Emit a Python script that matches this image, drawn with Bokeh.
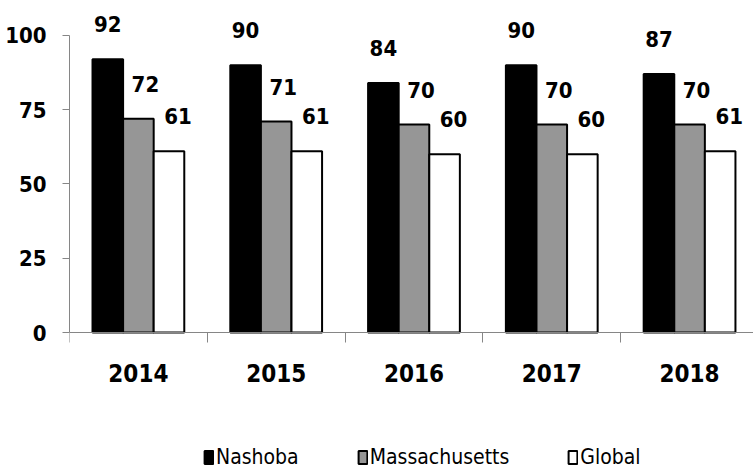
from bokeh.plotting import figure
from bokeh.models import ColumnDataSource, Range1d, FixedTicker, LabelSet, Legend, LegendItem
from bokeh.core.properties import value
from bokeh.transform import dodge
from bokeh.embed import file_html
from bokeh.resources import INLINE

years = ["2014", "2015", "2016", "2017", "2018"]
nashoba = [92, 90, 84, 90, 87]
massachusetts = [72, 71, 70, 70, 70]
global_vals = [61, 61, 60, 60, 61]
series_names = ["Nashoba", "Massachusetts", "Global"]
y_ticks = [0, 25, 50, 75, 100]

FONT = "DejaVu Sans Condensed"
colors = ["#000000", "#969696", "#ffffff"]
offsets = [-0.222, 0.0, 0.222]
label_dx = [0, 7, 9]

x_centers = [i + 0.5 for i in range(len(years))]
boundaries = list(range(len(years) + 1))

p = figure(width=753, height=470, output_backend="svg", toolbar_location=None,
           x_range=Range1d(0, 4.964), y_range=Range1d(-46.46, 111.78),
           min_border_left=69, min_border_right=0, min_border_top=0, min_border_bottom=0)
p.outline_line_color = None
p.xgrid.visible = False
p.ygrid.visible = False
p.background_fill_color = "white"
p.border_fill_color = "white"

items = []
for vals, name, col, off, dx in zip([nashoba, massachusetts, global_vals], series_names, colors, offsets, label_dx):
    src = ColumnDataSource(dict(x=x_centers, v=vals, t=[str(v) for v in vals]))
    r = p.vbar(x=dodge("x", off), top="v", bottom=0, width=0.222, source=src,
               fill_color=col, line_color="black", line_width=2)
    items.append(LegendItem(label=name, renderers=[r]))
    lab = LabelSet(x=dodge("x", off), y="v", text="t", source=src, x_offset=dx, y_offset=27,
                   text_align="center", text_baseline="alphabetic",
                   text_font=value(FONT), text_font_size=value("22px"),
                   text_font_style=value("bold"), text_color=value("black"))
    p.add_layout(lab)

# x axis, drawn at y = 0
xa = p.xaxis[0]
xa.fixed_location = 0
xa.ticker = FixedTicker(ticks=x_centers, minor_ticks=boundaries)
xa.major_label_overrides = {c: y for c, y in zip(x_centers, years)}
xa.major_tick_line_color = None
xa.minor_tick_line_color = "#868686"
xa.minor_tick_out = 10
xa.minor_tick_in = 0
xa.axis_line_color = "#868686"
xa.major_label_text_font = FONT
xa.major_label_text_font_size = "24px"
xa.major_label_text_font_style = "bold"
xa.major_label_text_color = "black"
xa.major_label_standoff = 21

# y axis
ya = p.yaxis[0]
ya.bounds = (0, 100)
ya.ticker = FixedTicker(ticks=y_ticks)
ya.minor_tick_line_color = None
ya.major_tick_line_color = "#868686"
ya.major_tick_out = 7
ya.major_tick_in = 0
ya.axis_line_color = "#868686"
ya.major_label_text_font = FONT
ya.major_label_text_font_size = "22px"
ya.major_label_text_font_style = "bold"
ya.major_label_text_color = "black"
ya.major_label_standoff = 16

legend = Legend(items=items, location=(134, 1), orientation="horizontal",
                glyph_width=11, glyph_height=16, label_standoff=2, spacing=58,
                padding=0, margin=0, border_line_color=None, background_fill_alpha=0,
                label_text_font=FONT, label_text_font_size="21px", label_text_color="black")
p.add_layout(legend, "center")

open("out.html", "w").write(file_html(p, INLINE))
